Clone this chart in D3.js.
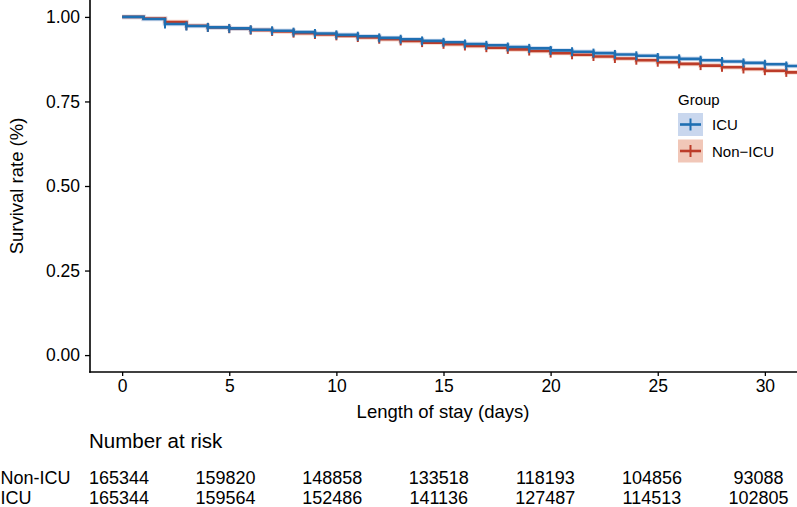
<!DOCTYPE html>
<html>
<head>
<meta charset="utf-8">
<script src="https://cdn.jsdelivr.net/npm/d3@7"></script>
<style>
  html, body { margin: 0; padding: 0; background: #fff; }
  svg text { font-family: "Liberation Sans", Arial, Helvetica, sans-serif; fill: #000; }
</style>
</head>
<body>
<svg id="chart" width="797" height="507"></svg>
<script>
// ---------------- data ----------------
const days = [0,1,2,3,4,5,6,7,8,9,10,11,12,13,14,15,16,17,18,19,20,21,22,23,24,25,26,27,28,29,30,31];
const survICU = [1.000,0.994,0.979,0.973,0.969,0.966,0.962,0.959,0.955,0.951,0.947,0.943,0.938,0.934,0.929,0.925,
                 0.920,0.916,0.911,0.907,0.901,0.897,0.893,0.889,0.885,0.880,0.876,0.872,0.868,0.864,0.860,0.855];
const survNonICU = [1.000,0.995,0.985,0.974,0.969,0.965,0.961,0.957,0.952,0.948,0.944,0.939,0.934,0.929,0.924,0.919,
                    0.914,0.909,0.904,0.899,0.893,0.888,0.883,0.877,0.872,0.866,0.861,0.856,0.851,0.846,0.841,0.836];
const censorDays = [2,3,4,5,6,7,8,9,10,11,12,13,14,15,16,17,18,19,20,21,22,23,24,25,26,27,28,29,30,31];
const groups = ["ICU", "Non\u2212ICU"];
const xTicks = [0,5,10,15,20,25,30];
const yTicks = [0,0.25,0.5,0.75,1];
const riskTimes = [0,5,10,15,20,25,30];
const riskNonICU = [165344,159820,148858,133518,118193,104856,93088];
const riskICU = [165344,159564,152486,141136,127487,114513,102805];
const riskLabels = ["Non-ICU", "ICU"];

// ---------------- styles ----------------
const colBlue = "#1f6fb2", colRed = "#bc3c29";
const fillBlue = "#c9d7ee", fillRed = "#f1c7b8";

const svg = d3.select("#chart");
const x = d3.scaleLinear().domain([-1.5, 31.5]).range([90, 797]);
const y = d3.scaleLinear().domain([-0.05, 1.05]).range([372, 0]);
const xt = d3.scaleLinear().domain([0, 30]).range([119, 758.5]);

svg.append("defs").append("clipPath").attr("id", "panel")
  .append("rect").attr("x", 90).attr("y", 0).attr("width", 707).attr("height", 372);

const plot = svg.append("g").attr("clip-path", "url(#panel)");

function series(vals) {
  const pts = days.map((d, i) => [d, vals[i]]);
  pts.push([x.domain()[1] + 1, vals[vals.length - 1]]);
  return pts;
}
const line = d3.line().x(d => x(d[0])).y(d => y(d[1])).curve(d3.curveStepAfter);

const sets = [
  {vals: survNonICU, col: colRed, halo: fillRed},
  {vals: survICU, col: colBlue, halo: fillBlue}
];
sets.forEach(s => {
  plot.append("path").attr("d", line(series(s.vals)))
    .attr("fill", "none").attr("stroke", s.halo).attr("stroke-width", 4.5).attr("opacity", 0.8);
});
sets.forEach(s => {
  plot.append("path").attr("d", line(series(s.vals)))
    .attr("fill", "none").attr("stroke", s.col).attr("stroke-width", 2.6);
  plot.selectAll(null).data(censorDays).enter().append("line")
    .attr("x1", d => x(d)).attr("x2", d => x(d))
    .attr("y1", d => y(s.vals[days.indexOf(d)]) - 4.5)
    .attr("y2", d => y(s.vals[days.indexOf(d)]) + 4.5)
    .attr("stroke", s.col).attr("stroke-width", 2);
});

// ---------------- axes ----------------
const yAxis = svg.append("g").attr("transform", "translate(90,0)")
  .call(d3.axisLeft(y).tickValues(yTicks).tickFormat(d3.format(".2f")).tickSize(5).tickPadding(5));
yAxis.select(".domain").remove();
yAxis.selectAll("text").attr("font-size", 17.5).attr("fill", "#000");
yAxis.selectAll("line").attr("stroke", "#000").attr("stroke-width", 1.3);

const xAxis = svg.append("g").attr("transform", "translate(0,372)")
  .call(d3.axisBottom(x).tickValues(xTicks).tickSize(4).tickPadding(4));
xAxis.select(".domain").remove();
xAxis.selectAll("text").attr("font-size", 17.5).attr("fill", "#000");
xAxis.selectAll("line").attr("stroke", "#000").attr("stroke-width", 1.3);

svg.append("line").attr("x1", 90).attr("x2", 90).attr("y1", 0).attr("y2", 372.7)
  .attr("stroke", "#000").attr("stroke-width", 1.6);
svg.append("line").attr("x1", 89.2).attr("x2", 797).attr("y1", 372).attr("y2", 372)
  .attr("stroke", "#000").attr("stroke-width", 1.6);

svg.append("text").attr("x", 443).attr("y", 418).attr("text-anchor", "middle")
  .attr("font-size", 18.5).text("Length of stay (days)");
svg.append("text").attr("transform", "translate(23,186) rotate(-90)")
  .attr("text-anchor", "middle").attr("font-size", 18.5).text("Survival rate (%)");

// ---------------- legend ----------------
const leg = svg.append("g");
leg.append("text").attr("x", 678).attr("y", 104.5).attr("font-size", 15).text("Group");
const legItems = [
  {label: groups[0], col: colBlue, fill: fillBlue, y0: 113},
  {label: groups[1], col: colRed, fill: fillRed, y0: 139.5}
];
legItems.forEach(it => {
  leg.append("rect").attr("x", 678).attr("y", it.y0).attr("width", 25).attr("height", 23).attr("fill", it.fill);
  const cy = it.y0 + 11.5;
  leg.append("line").attr("x1", 680).attr("x2", 701).attr("y1", cy).attr("y2", cy)
    .attr("stroke", it.col).attr("stroke-width", 2.6);
  leg.append("line").attr("x1", 690.5).attr("x2", 690.5).attr("y1", cy - 6).attr("y2", cy + 6)
    .attr("stroke", it.col).attr("stroke-width", 2);
  leg.append("text").attr("x", 712).attr("y", cy + 5.5).attr("font-size", 15).text(it.label);
});

// ---------------- risk table ----------------
svg.append("text").attr("x", 89).attr("y", 448).attr("font-size", 20.5).text("Number at risk");
const rows = [riskNonICU, riskICU];
const rowY = [483.5, 503.5];
rows.forEach((r, i) => {
  svg.append("text").attr("x", 0.5).attr("y", rowY[i]).attr("font-size", 18).text(riskLabels[i]);
  svg.selectAll(null).data(riskTimes).enter().append("text")
    .attr("x", d => xt(d)).attr("y", rowY[i]).attr("text-anchor", "middle")
    .attr("font-size", 18).text((d, j) => r[j]);
});
</script>
</body>
</html>
